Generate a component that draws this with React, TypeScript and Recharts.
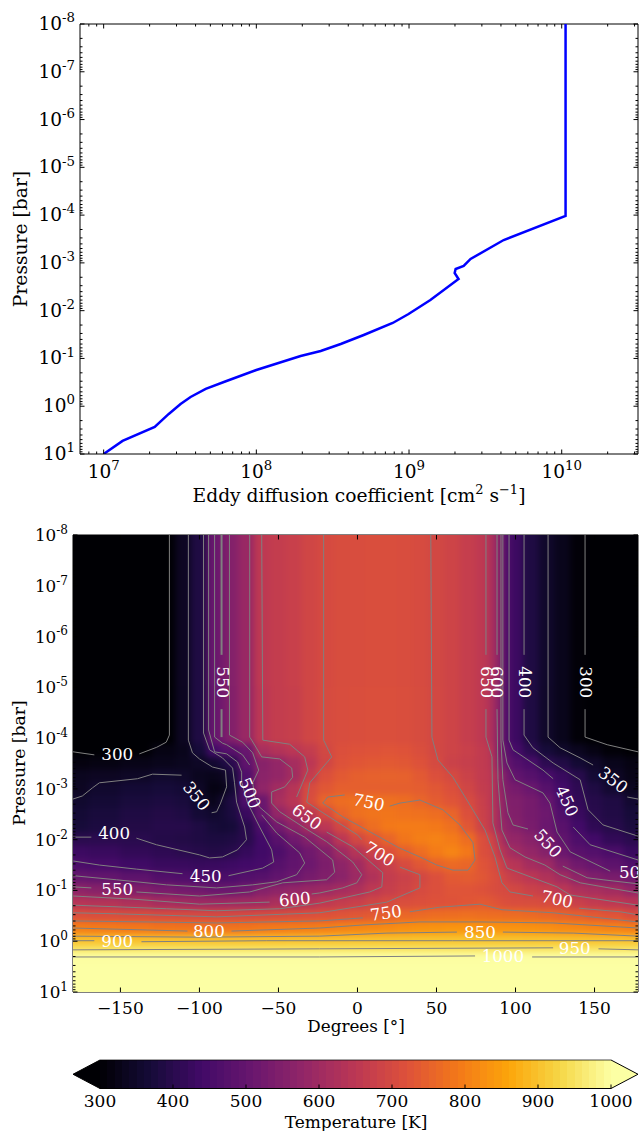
import {
  LineChart,
  Line,
  ScatterChart,
  Scatter,
  XAxis,
  YAxis,
  ReferenceDot,
  ReferenceLine,
  ReferenceArea,
} from "recharts"

const FONT = "'DejaVu Serif', serif"
const CONTOUR_GRAY = "#808080"

// Top panel: eddy diffusion profile (cm2/s against bar)
const eddyValues = [
  1.0e7, 1.33e7, 2.16e7, 2.67e7, 3.19e7, 3.71e7, 4.66e7, 6.38e7, 1.0e8, 1.95e8, 2.64e8, 3.57e8, 5.05e8, 7.82e8, 9.93e8,
  1.38e9, 2.11e9, 1.99e9, 2.02e9, 2.28e9, 2.53e9, 4.17e9, 1.06e10, 1.06e10,
]
const eddyPressures = [
  10, 5.33, 2.72, 1.45, 0.9, 0.64, 0.435, 0.296, 0.175, 0.0887, 0.0698, 0.0498, 0.0323, 0.0181, 0.01175, 0.00597, 0.00217,
  0.00163, 0.00134, 0.00116, 0.000828, 0.000332, 1.04e-4, 1e-8,
]
const eddyData = eddyValues.map((eddy, i) => ({ eddy, pressure: eddyPressures[i] }))

const eddyMajorTicks = [1e7, 1e8, 1e9, 1e10]
const eddyMinorTicks = [
  8e6, 9e6, 2e7, 3e7, 4e7, 5e7, 6e7, 7e7, 8e7, 9e7, 2e8, 3e8, 4e8, 5e8, 6e8, 7e8, 8e8, 9e8, 2e9, 3e9, 4e9, 5e9, 6e9,
  7e9, 8e9, 9e9, 2e10, 3e10,
]
const pressureExponents = [-8, -7, -6, -5, -4, -3, -2, -1, 0, 1]
const pressureTicks = pressureExponents.flatMap((e) =>
  e === 1 ? [10] : [1, 2, 3, 4, 5, 6, 7, 8, 9].map((m) => Number(`${m}e${e}`)),
)

// Bottom panel: temperature field
const longitudes = [
  -180, -160, -140, -120, -110, -100, -90, -85, -80, -70, -60, -50, -40, -30, -20, -10, 0, 10, 20, 30, 40, 50, 60, 70,
  80, 85, 90, 95, 100, 110, 120, 130, 140, 150, 160, 177.5,
]
const logPressures = [
  -6, -4, -3.75, -3.5, -3.25, -3, -2.75, -2.5, -2.25, -2, -1.75, -1.5, -1.25, -1, -0.75, -0.5, -0.25, 0, 0.15, 0.3,
  0.6,
]
const temperatures = [
  [290,290,290,300,340,385,505,530,555,590,655,665,675,690,702,708,710,712,712,710,705,695,685,670,655,625,565,460,430,385,352,330,305,290,290,290],
  [290,290,290,298,338,385,500,525,552,590,650,665,672,690,703,710,712,714,714,712,706,696,685,670,655,622,560,460,430,385,350,330,305,295,292,288],
  [298,298,299,320,330,370,440,470,480,505,615,635,648,665,695,715,720,722,725,722,712,695,685,675,660,640,545,485,445,405,370,352,335,320,305,298],
  [315,318,325,330,335,345,360,380,402,490,560,580,610,650,690,720,728,732,735,730,720,700,680,672,660,645,560,500,470,452,405,388,362,350,330,318],
  [335,340,345,355,350,335,330,340,375,465,565,580,605,665,715,735,745,748,750,748,735,715,700,680,662,650,590,530,495,475,453,425,398,365,345,325],
  [340,355,365,370,365,345,320,325,365,465,575,605,640,705,730,745,745,745,745,745,742,730,715,690,665,655,590,540,530,510,475,440,408,385,360,335],
  [355,365,375,380,375,355,330,360,385,460,510,615,645,710,755,770,775,778,775,770,755,740,725,705,675,650,600,550,545,530,505,450,415,395,385,360],
  [365,375,385,390,385,365,355,365,380,425,505,580,615,645,700,752,775,782,785,780,778,770,755,715,680,655,600,555,548,530,515,465,425,400,388,370],
  [372,380,390,395,395,385,370,365,370,400,460,525,570,610,650,695,745,772,790,795,795,790,775,730,685,655,600,570,555,535,510,480,440,410,395,378],
  [402,403,401,393,390,385,380,380,385,400,440,480,520,555,590,650,695,725,755,785,800,805,795,770,715,690,640,585,580,560,530,492,460,440,415,402],
  [430,425,415,408,402,395,390,392,400,420,438,460,490,520,550,600,640,680,715,745,770,795,810,790,715,702,660,620,600,580,555,510,480,470,455,425],
  [455,448,435,425,425,422,425,428,432,440,447,475,495,515,540,570,602,645,675,705,730,752,765,758,725,712,690,650,640,610,595,550,520,505,487,462],
  [502,498,487,468,462,458,455,455,460,470,475,495,510,530,548,565,595,630,665,680,695,715,735,740,730,715,705,680,665,650,630,605,572,545,535,517],
  [570,560,548,535,525,518,510,510,512,525,555,570,580,590,595,610,625,655,672,685,705,715,725,725,720,712,705,702,695,680,670,648,625,615,605,580],
  [640,635,625,610,605,598,597,598,600,602,605,620,630,640,655,665,675,690,705,712,715,720,722,728,735,730,720,712,710,708,705,695,675,662,652,643],
  [715,712,708,705,703,702,700,700,700,702,705,708,712,715,720,725,730,735,745,760,765,770,772,775,772,771,770,769,768,765,760,752,745,735,725,707],
  [800,795,790,785,783,782,782,782,782,785,790,795,798,800,802,808,812,815,820,825,830,832,835,835,835,834,833,833,832,830,825,820,815,810,805,800],
  [897,897,897,897,897,897,897,897,897,897,897,897,898,898,898,899,900,900,901,901,902,902,902,902,902,902,902,902,902,901,900,900,899,898,898,897],
  [948,948,948,948,948,948,948,948,948,948,948,948,948,948,948,948,948,948,948,948,948,948,948,948,948,948,948,948,948,948,948,948,948,948,948,948],
  [998,998,998,998,998,998,998,998,998,998,998,998,998,998,998,998,998,998,998,998,998,998,998,998,998,998,998,998,998,998,998,998,998,998,998,998],
  [1030,1030,1030,1030,1030,1030,1030,1030,1030,1030,1030,1030,1030,1030,1030,1030,1030,1030,1030,1030,1030,1030,1030,1030,1030,1030,1030,1030,1030,1030,1030,1030,1030,1030,1030,1030],
]

// Contours as [longitude, log10 pressure], split where an inline label interrupts them
const contour300: number[][][] = [
  [[-119,-8],[-119,-4.06],[-121,-3.92],[-127,-3.82],[-138,-3.69]],
  [[-166.5,-3.67],[-180,-3.73]],
  [[144,-8],[144,-5.64]],
  [[144,-4.57],[144,-4.02],[158,-3.87],[177.5,-3.73]],
]
const contour350: number[][][] = [
  [[-107,-8],[-107,-3.96],[-104.4,-3.71],[-100,-3.59],[-91.7,-3.43],[-83.5,-3.37],[-82.8,-3.04],[-86.6,-2.72],[-89.1,-2.55],[-92.3,-2.53]],
  [[-111.3,-3.27],[-129.7,-3.29],[-139.2,-3.2],[-163.3,-3.12],[-167.7,-3.02],[-174.1,-2.86],[-180,-2.8]],
  [[120.6,-8],[120.6,-4.02],[128.2,-3.81],[140.9,-3.61],[149.1,-3.47]],
  [[170.7,-2.84],[177.5,-2.8]],
]
const contour400: number[][][] = [
  [[-97.4,-8],[-97.4,-4.1],[-93.6,-3.77],[-85.4,-3.61],[-79,-3.41],[-77.8,-3.12],[-76.5,-2.74],[-71.4,-2.25],[-70.2,-2],[-75.9,-1.8],[-85.4,-1.66],[-93.6,-1.64],[-99.9,-1.7],[-127.2,-1.9],[-139.9,-2.03]],
  [[-168.4,-2.05],[-180,-2.05]],
  [[105.4,-8],[105.4,-5.64]],
  [[105.4,-4.57],[105.4,-4.06],[111,-3.81],[123.8,-3.51],[140.9,-3.18],[145.9,-2.59],[155.4,-2.29],[177.5,-2.07]],
]
const contour450: number[][][] = [
  [[-94.2,-8],[-94.2,-4.16],[-90.4,-3.73],[-82.8,-3.69],[-75.9,-3.53],[-73.3,-3.33],[-73.3,-3.14],[-69.5,-2.72],[-61.9,-2.25],[-54.3,-1.8],[-53,-1.56],[-60,-1.44],[-81.6,-1.29]],
  [[-110.7,-1.33],[-139.9,-1.42],[-163.3,-1.5],[-179.8,-1.58]],
  [[95.9,-8],[95.9,-3.96],[98.4,-3.77],[117.4,-3.37],[123.8,-3.2]],
  [[136.5,-2.25],[147.2,-1.9],[177.5,-1.6]],
]
const contour500: number[][][] = [
  [[-90.4,-8],[-90.4,-4.02],[-85.4,-3.9],[-82.8,-3.87],[-72.7,-3.67],[-68.2,-3.47]],
  [[-60.6,-2.49],[-51.1,-2.13],[-36.6,-1.74],[-33.4,-1.54],[-38.5,-1.31],[-51.1,-1.17],[-66.3,-1.11],[-89.2,-1.05],[-120.8,-1.11],[-152.5,-1.21],[-179.8,-1.29]],
  [[92,-8],[92,-3.96],[94.6,-3.51],[99.7,-3.18],[117.4,-2.92],[121.8,-2.72],[126.3,-2.15],[134.6,-1.76],[159.9,-1.38]],
]
const contour550: number[][][] = [
  [[-81,-8],[-81,-4.06],[-72.7,-3.92],[-66.3,-3.71],[-62.5,-3.37],[-66.3,-3.12],[-65,-2.84],[-61.9,-2.64],[-51.1,-2.35],[-33.4,-2.05],[-15.7,-1.6],[-14.4,-1.36],[-19.5,-1.21],[-47.3,-1.15],[-68.2,-0.97],[-99.9,-0.89],[-139.9,-0.97]],
  [[-168.4,-1.05],[-179.8,-1.07]],
  [[90.8,-8],[90.8,-3.96],[92,-3.18],[95.2,-2.53],[98.4,-2.29],[107.9,-2.21]],
  [[129.9,-1.48],[145.3,-1.25],[155.4,-1.21],[177.5,-1.13]],
]
const contour550Sliver: number[][][] = [
  [[-86,-8],[-86,-5.64]],
  [[-86,-4.57],[-86,-4.02]],
]
const contour600: number[][][] = [
  [[-68.2,-8],[-68.2,-4.02],[-66.9,-3.96],[-60.6,-3.63],[-49.2,-3.59],[-41.6,-3.41],[-41,-3.23],[-46,-3.04],[-54.3,-2.94],[-54.3,-2.72],[-49.2,-2.55],[-33.4,-2.23],[-19.5,-1.96],[-3,-1.56],[2.7,-1.31],[-0.4,-1.15],[-9.3,-1.05],[-23.9,-0.95],[-29,-0.93]],
  [[-55.6,-0.77],[-99.9,-0.73],[-142.4,-0.83],[-179.8,-0.89]],
  [[88.3,-8],[88.3,-5.64]],
  [[88.3,-4.57],[88.9,-3.18],[91.4,-2.19],[96.5,-1.84],[106,-1.66],[118.6,-1.5],[128.2,-1.31],[140.9,-1.15],[177.5,-0.95]],
]
const contour650: number[][][] = [
  [[-60.6,-8],[-59.9,-3.96],[-42.9,-3.88],[-33.4,-3.63],[-31.4,-3.37],[-38.5,-2.84]],
  [[-19.5,-2.15],[-3,-1.86],[16,-1.35],[15.4,-1.07],[7.8,-0.97],[-23.9,-0.75],[-49.2,-0.64],[-89.2,-0.6],[-120.8,-0.64],[-179.8,-0.71]],
  [[81.3,-8],[81.3,-5.64]],
  [[81.3,-4.57],[81.3,-4.02],[85.1,-3.63],[85.7,-2.33],[90.2,-1.8],[94.6,-1.44],[109.2,-1.27],[126.3,-1.07],[134.6,-0.91],[177.5,-0.71]],
]
const contour700: number[][][] = [
  [[-21.4,-8],[-21.4,-3.96],[-16.3,-3.63],[-30.2,-3.12],[-32.1,-2.74],[-21.9,-2.53],[0.2,-2.09],[2.7,-2]],
  [[26.8,-1.46],[39.5,-1.31],[39.5,-1.05],[18.6,-0.77],[-23.9,-0.56],[-89.2,-0.48],[-152.5,-0.54],[-179.8,-0.56]],
  [[46.4,-8],[47.1,-4.02],[50.9,-3.57],[60.4,-3.23],[71.2,-2.68],[80.7,-2.19],[87,-1.66],[91.4,-1.15],[96.5,-0.97],[111.1,-0.89]],
  [[140.2,-0.65],[166.2,-0.58],[177.5,-0.52]],
]
const contour750: number[][][] = [
  [[20.4,-2.66],[26.8,-2.72],[39.5,-2.78],[54,-2.59],[64.8,-2.29],[73.1,-1.94],[74.4,-1.6],[70,-1.4],[60.4,-1.4],[50.2,-1.5],[39.5,-1.66],[26.2,-1.84],[-9.3,-2.45],[-22,-2.72],[-18.8,-2.84],[-8.1,-2.88]],
  [[-179.8,-0.4],[-89.2,-0.36],[-23.9,-0.4],[3.4,-0.46]],
  [[33.1,-0.58],[52.1,-0.67],[77.5,-0.73],[91.4,-0.62],[123.8,-0.56],[177.5,-0.38]],
]
const contour800: number[][][] = [
  [[-179.8,-0.26],[-107.6,-0.2]],
  [[-79.7,-0.2],[-23.9,-0.26],[3.4,-0.32],[39.5,-0.38],[77.5,-0.38],[123.8,-0.36],[177.5,-0.26]],
]
const contour850: number[][][] = [
  [[-179.8,-0.1],[-99.9,-0.08],[-23.9,-0.1],[18.6,-0.16],[62.9,-0.18]],
  [[92,-0.18],[136.5,-0.16],[177.5,-0.1]],
]
const contour900: number[][][] = [
  [[-180,-0.01],[-166.5,-0.01]],
  [[-136.7,0.01],[-57.4,-0.01],[60,-0.01],[177.5,-0.01]],
]
const contour950: number[][][] = [
  [[-180,0.17],[-23.9,0.15],[123.8,0.13]],
  [[152.5,0.15],[177.5,0.17]],
]
const contour1000: number[][][] = [
  [[-180,0.31],[-23.9,0.31],[74.4,0.29]],
  [[110.5,0.31],[177.5,0.31]],
]
const contourSegments = [
  ...contour300, ...contour350, ...contour400, ...contour450, ...contour500, ...contour550, ...contour600,
  ...contour650, ...contour700, ...contour750, ...contour800, ...contour850, ...contour900, ...contour950,
  ...contour1000,
]

// [text, longitude, log10 pressure, rotation]
const contourLabels: [string, number, number, number][] = [
  ["300", -152, -3.69, 0],
  ["350", -101.8, -2.86, 52],
  ["400", -154, -2.13, 0],
  ["450", -96, -1.28, 0],
  ["500", -68, -2.92, 68],
  ["550", -152, -1.03, 0],
  ["600", -39.7, -0.83, -5],
  ["650", -32, -2.45, 36],
  ["700", 14, -1.72, 32],
  ["750", 7.2, -2.74, 12],
  ["750", 18, -0.56, -8],
  ["800", -94, -0.2, 0],
  ["850", 77.5, -0.18, 0],
  ["900", -152, -0.01, 0],
  ["950", 137.5, 0.13, 0],
  ["1000", 92, 0.29, 0],
  ["550", -85, -5.1, 90],
  ["650", 81.8, -5.1, 90],
  ["600", 88.5, -5.1, 90],
  ["400", 106, -5.1, 90],
  ["300", 144.6, -5.1, 90],
  ["350", 161.8, -3.18, 38],
  ["450", 132.6, -2.76, 66],
  ["550", 120.6, -1.93, 48],
  ["700", 126.3, -0.83, 12],
  ["500", 175.5, -1.37, 0],
]

const degreeTicks = [-150, -100, -50, 0, 50, 100, 150]
const colorbarTicks = [300, 400, 500, 600, 700, 800, 900, 1000]
const colorLevels = Array.from({ length: 70 }, (_, i) => 300 + i * 10)

const infernoStops = [
  [0, 0, 4], [22, 11, 57], [66, 10, 104], [106, 23, 110], [147, 38, 103], [188, 55, 84],
  [221, 81, 58], [243, 120, 25], [252, 165, 10], [246, 215, 70], [252, 255, 164],
]

function tempColor(t: number) {
  const f = Math.min(1, Math.max(0, (t - 300) / 700)) * 10
  const i = Math.min(9, Math.floor(f))
  const a = infernoStops[i]
  const b = infernoStops[i + 1]
  const c = a.map((v, k) => Math.round(v + (b[k] - v) * (f - i)))
  return `rgb(${c[0]},${c[1]},${c[2]})`
}

// Plot boxes in page pixels
const TOP_BOX = { left: 80, right: 638, top: 24, bottom: 454 }
const HEAT_OFFSET = 490
const HEAT_BOX = { left: 73, right: 638, top: 535 - HEAT_OFFSET, bottom: 992 - HEAT_OFFSET }
const PX_PER_DEG = (HEAT_BOX.right - HEAT_BOX.left) / 357.5
const PX_PER_DECADE = (HEAT_BOX.bottom - HEAT_BOX.top) / 9

const edges = (list: number[], i: number) => [
  i === 0 ? list[0] : (list[i - 1] + list[i]) / 2,
  i === list.length - 1 ? list[i] : (list[i] + list[i + 1]) / 2,
]

const heatCells = logPressures.flatMap((logP, r) =>
  longitudes.map((lon, c) => {
    const [x0, x1] = edges(longitudes, c)
    const [y0, y1] = edges(logPressures, r)
    return {
      lon,
      pressure: 10 ** logP,
      color: tempColor(temperatures[r][c]),
      left: (lon - x0) * PX_PER_DEG + (c === 0 ? 14 : 0.5),
      right: (x1 - lon) * PX_PER_DEG + (c === longitudes.length - 1 ? 14 : 0.5),
      up: (logP - y0) * PX_PER_DECADE + (r === 0 ? 120 : 0.5),
      down: (y1 - logP) * PX_PER_DECADE + (r === logPressures.length - 1 ? 40 : 0.5),
    }
  }),
)

const HeatCell = (props: any) => {
  const { cx, cy, payload: p } = props
  return <rect x={cx - p.left} y={cy - p.up} width={p.left + p.right} height={p.up + p.down} fill={p.color} />
}

const NoMarker = () => <g />

const toPoints = (segment: number[][]) => segment.map(([lon, logP]) => ({ lon, pressure: 10 ** logP }))

const isMajor = (v: number) => Math.abs(Math.log10(v) - Math.round(Math.log10(v))) < 1e-6

const PowerText = ({ x, y, exp, anchor, size }: any) => (
  <text x={x} y={y} textAnchor={anchor} fontFamily={FONT} fontSize={size} fill="#000">
    <tspan>10</tspan>
    <tspan dy={-size * 0.42} fontSize={size * 0.72}>
      {exp}
    </tspan>
  </text>
)

const makeLogYTick = (box: typeof TOP_BOX, size: number) => (props: any) => {
  const { x, y, payload } = props
  const major = isMajor(payload.value)
  const len = major ? 4.5 : 2.5
  return (
    <g>
      <line x1={box.left} x2={box.left + len} y1={y} y2={y} stroke="#000" />
      <line x1={box.right - len} x2={box.right} y1={y} y2={y} stroke="#000" />
      {major && (
        <PowerText x={x - 5} y={y + 6} exp={Math.round(Math.log10(payload.value))} anchor="end" size={size} />
      )}
    </g>
  )
}

const EddyXTick = (props: any) => {
  const { x, payload } = props
  const major = isMajor(payload.value)
  const len = major ? 4.5 : 2.5
  return (
    <g>
      <line x1={x} x2={x} y1={TOP_BOX.bottom - len} y2={TOP_BOX.bottom} stroke="#000" />
      <line x1={x} x2={x} y1={TOP_BOX.top} y2={TOP_BOX.top + len} stroke="#000" />
      {major && (
        <PowerText x={x} y={TOP_BOX.bottom + 24} exp={Math.round(Math.log10(payload.value))} anchor="middle" size={18.5} />
      )}
    </g>
  )
}

const DegreeTick = (props: any) => {
  const { x, payload } = props
  return (
    <g>
      <line x1={x} x2={x} y1={HEAT_BOX.bottom - 4.5} y2={HEAT_BOX.bottom} stroke="#000" />
      <line x1={x} x2={x} y1={HEAT_BOX.top} y2={HEAT_BOX.top + 4.5} stroke="#000" />
      <text x={x} y={HEAT_BOX.bottom + 22} textAnchor="middle" fontFamily={FONT} fontSize={17} fill="#000">
        {String(payload.value).replace("-", "\u2212")}
      </text>
    </g>
  )
}

const ColorbarTick = (props: any) => {
  const { x, y, payload } = props
  return (
    <g>
      <line x1={x} x2={x} y1={y - 4} y2={y} stroke="#000" />
      <text x={x} y={y + 18} textAnchor="middle" fontFamily={FONT} fontSize={17} fill="#000">
        {payload.value}
      </text>
    </g>
  )
}

const contourLabelShape = (text: string, rotation: number) => (props: any) => {
  const { cx, cy } = props
  return (
    <g clipPath="url(#heatClip)">
      <text
        x={cx}
        y={cy}
        dy={6}
        textAnchor="middle"
        fontFamily={FONT}
        fontSize={16.7}
        fill="#fff"
        transform={rotation ? `rotate(${rotation} ${cx} ${cy})` : undefined}
      >
        {text}
      </text>
    </g>
  )
}

const ColorBand = (props: any) => {
  const { x, y, width, height, fill } = props
  return <rect x={x} y={y} width={width} height={height} fill={fill} shapeRendering="crispEdges" />
}

const Tip = (props: any) => {
  const { cx, cy, dir, fill } = props
  const tip = `${cx + dir * 27},${cy}`
  return (
    <g>
      <polygon points={`${tip} ${cx},${cy - 14.25} ${cx},${cy + 14.25}`} fill={fill} />
      <polyline points={`${cx},${cy - 14.25} ${tip} ${cx},${cy + 14.25}`} fill="none" stroke="#000" />
    </g>
  )
}

const YTitle = ({ x, y, size }: any) => (
  <text x={x} y={y} textAnchor="middle" fontFamily={FONT} fontSize={size} fill="#000" transform={`rotate(-90 ${x} ${y})`}>
    Pressure [bar]
  </text>
)

function EddyChart() {
  return (
    <LineChart
      width={640}
      height={490}
      data={eddyData}
      margin={{ top: TOP_BOX.top, right: 640 - TOP_BOX.right, bottom: 0, left: 0 }}
    >
      <XAxis
        dataKey="eddy"
        type="number"
        scale="log"
        domain={[7e6, 3.16e10]}
        allowDataOverflow
        ticks={[...eddyMajorTicks, ...eddyMinorTicks]}
        interval={0}
        tick={EddyXTick}
        tickLine={false}
        tickSize={0}
        tickMargin={0}
        height={490 - TOP_BOX.bottom}
        axisLine={{ stroke: "#000" }}
      />
      <YAxis
        type="number"
        dataKey="pressure"
        scale="log"
        domain={[1e-8, 10]}
        reversed
        allowDataOverflow
        ticks={pressureTicks}
        interval={0}
        tick={makeLogYTick(TOP_BOX, 18.5)}
        tickLine={false}
        tickSize={0}
        tickMargin={0}
        width={TOP_BOX.left}
        axisLine={{ stroke: "#000" }}
      />
      <ReferenceLine y={1e-8} stroke="#000" />
      <ReferenceLine x={3.16e10} stroke="#000" />
      <Line dataKey="pressure" stroke="#0000ff" strokeWidth={2.5} dot={false} isAnimationActive={false} />
      <YTitle x={27} y={239} size={18.7} />
    </LineChart>
  )
}

function HeatChart() {
  return (
    <ScatterChart
      width={640}
      height={560}
      margin={{ top: HEAT_BOX.top, right: 640 - HEAT_BOX.right, bottom: 0, left: 0 }}
    >
      <XAxis
        dataKey="lon"
        type="number"
        domain={[-180, 177.5]}
        allowDataOverflow
        ticks={degreeTicks}
        interval={0}
        tick={DegreeTick}
        tickLine={false}
        tickSize={0}
        tickMargin={0}
        height={560 - HEAT_BOX.bottom}
        axisLine={{ stroke: "#000" }}
      />
      <YAxis
        dataKey="pressure"
        type="number"
        scale="log"
        domain={[1e-8, 10]}
        reversed
        allowDataOverflow
        ticks={pressureTicks}
        interval={0}
        tick={makeLogYTick(HEAT_BOX, 16.8)}
        tickLine={false}
        tickSize={0}
        tickMargin={0}
        width={HEAT_BOX.left}
        axisLine={{ stroke: "#000" }}
      />
      <Scatter className="heat-cells" data={heatCells} shape={HeatCell} isAnimationActive={false} />
      {contourSegments.map((segment, i) => (
        <Scatter
          key={`contour-${i}`}
          data={toPoints(segment)}
          line={{ stroke: CONTOUR_GRAY, strokeWidth: 1 }}
          shape={NoMarker}
          isAnimationActive={false}
        />
      ))}
      {contour550Sliver.map((segment, i) => (
        <Scatter
          key={`sliver-${i}`}
          data={toPoints(segment)}
          line={{ stroke: CONTOUR_GRAY, strokeWidth: 2 }}
          shape={NoMarker}
          isAnimationActive={false}
        />
      ))}
      {contourLabels.map(([text, lon, logP, rotation], i) => (
        <ReferenceDot
          key={`label-${i}`}
          x={lon}
          y={10 ** logP}
          r={0}
          ifOverflow="visible"
          shape={contourLabelShape(text, rotation)}
        />
      ))}
      <ReferenceLine y={1e-8} stroke="#000" />
      <ReferenceLine x={177.5} stroke="#000" />
      <YTitle x={25} y={763 - HEAT_OFFSET} size={17.2} />
    </ScatterChart>
  )
}

function Colorbar() {
  return (
    <ScatterChart width={640} height={71} margin={{ top: 1, right: 29, bottom: 0, left: 100 }}>
      <XAxis
        dataKey="level"
        type="number"
        domain={[300, 1000]}
        ticks={colorbarTicks}
        interval={0}
        tick={ColorbarTick}
        tickLine={false}
        tickSize={0}
        tickMargin={0}
        height={41.5}
        axisLine={false}
      />
      <YAxis dataKey="mid" type="number" domain={[0, 1]} hide />
      <Scatter data={colorLevels.map((level) => ({ level, mid: 0.5 }))} shape={NoMarker} isAnimationActive={false} />
      {colorLevels.map((level) => (
        <ReferenceArea
          key={level}
          x1={level}
          x2={level + 10}
          y1={0}
          y2={1}
          fill={tempColor(level + 5)}
          shape={ColorBand}
        />
      ))}
      <ReferenceLine y={0} stroke="#000" />
      <ReferenceLine y={1} stroke="#000" strokeOpacity={0.7} />
      <ReferenceDot x={300} y={0.5} r={0} ifOverflow="visible" shape={(p: any) => <Tip {...p} dir={-1} fill="#000004" />} />
      <ReferenceDot x={1000} y={0.5} r={0} ifOverflow="visible" shape={(p: any) => <Tip {...p} dir={1} fill="#fcffa4" />} />
    </ScatterChart>
  )
}

const place = (top: number): React.CSSProperties => ({ position: "absolute", left: 0, top })

const pageText = (x: number, y: number, size: number): React.CSSProperties => ({
  position: "absolute",
  left: x,
  top: y,
  transform: "translate(-50%, -50%)",
  fontFamily: FONT,
  fontSize: size,
  color: "#000",
  whiteSpace: "nowrap",
  lineHeight: 1,
})

export default function App() {
  return (
    <div style={{ position: "absolute", left: 0, top: 0, width: 640, height: 1131, overflow: "hidden", background: "#fff" }}>
      <style>{`.heat-cells{filter:url(#heatBlur);clip-path:url(#heatClip)}`}</style>
      <svg width={0} height={0} style={{ position: "absolute" }}>
        <defs>
          <filter id="heatBlur" x="-5%" y="-5%" width="110%" height="110%" colorInterpolationFilters="sRGB">
            <feGaussianBlur stdDeviation={3} />
          </filter>
          <clipPath id="heatClip">
            <rect
              x={HEAT_BOX.left}
              y={HEAT_BOX.top}
              width={HEAT_BOX.right - HEAT_BOX.left}
              height={HEAT_BOX.bottom - HEAT_BOX.top}
            />
          </clipPath>
        </defs>
      </svg>
      <div style={place(0)}>
        <EddyChart />
      </div>
      <div style={place(HEAT_OFFSET)}>
        <HeatChart />
      </div>
      <div style={place(1059)}>
        <Colorbar />
      </div>
      <div style={pageText(359, 496, 18.7)}>
        Eddy diffusion coefficient [cm<sup style={{ fontSize: 13, lineHeight: 0 }}>2</sup> s<sup style={{ fontSize: 13, lineHeight: 0 }}>{"\u22121"}</sup>]
      </div>
      <div style={pageText(356, 1026, 16.8)}>Degrees [°]</div>
      <div style={pageText(356, 1122, 17)}>Temperature [K]</div>
    </div>
  )
}
